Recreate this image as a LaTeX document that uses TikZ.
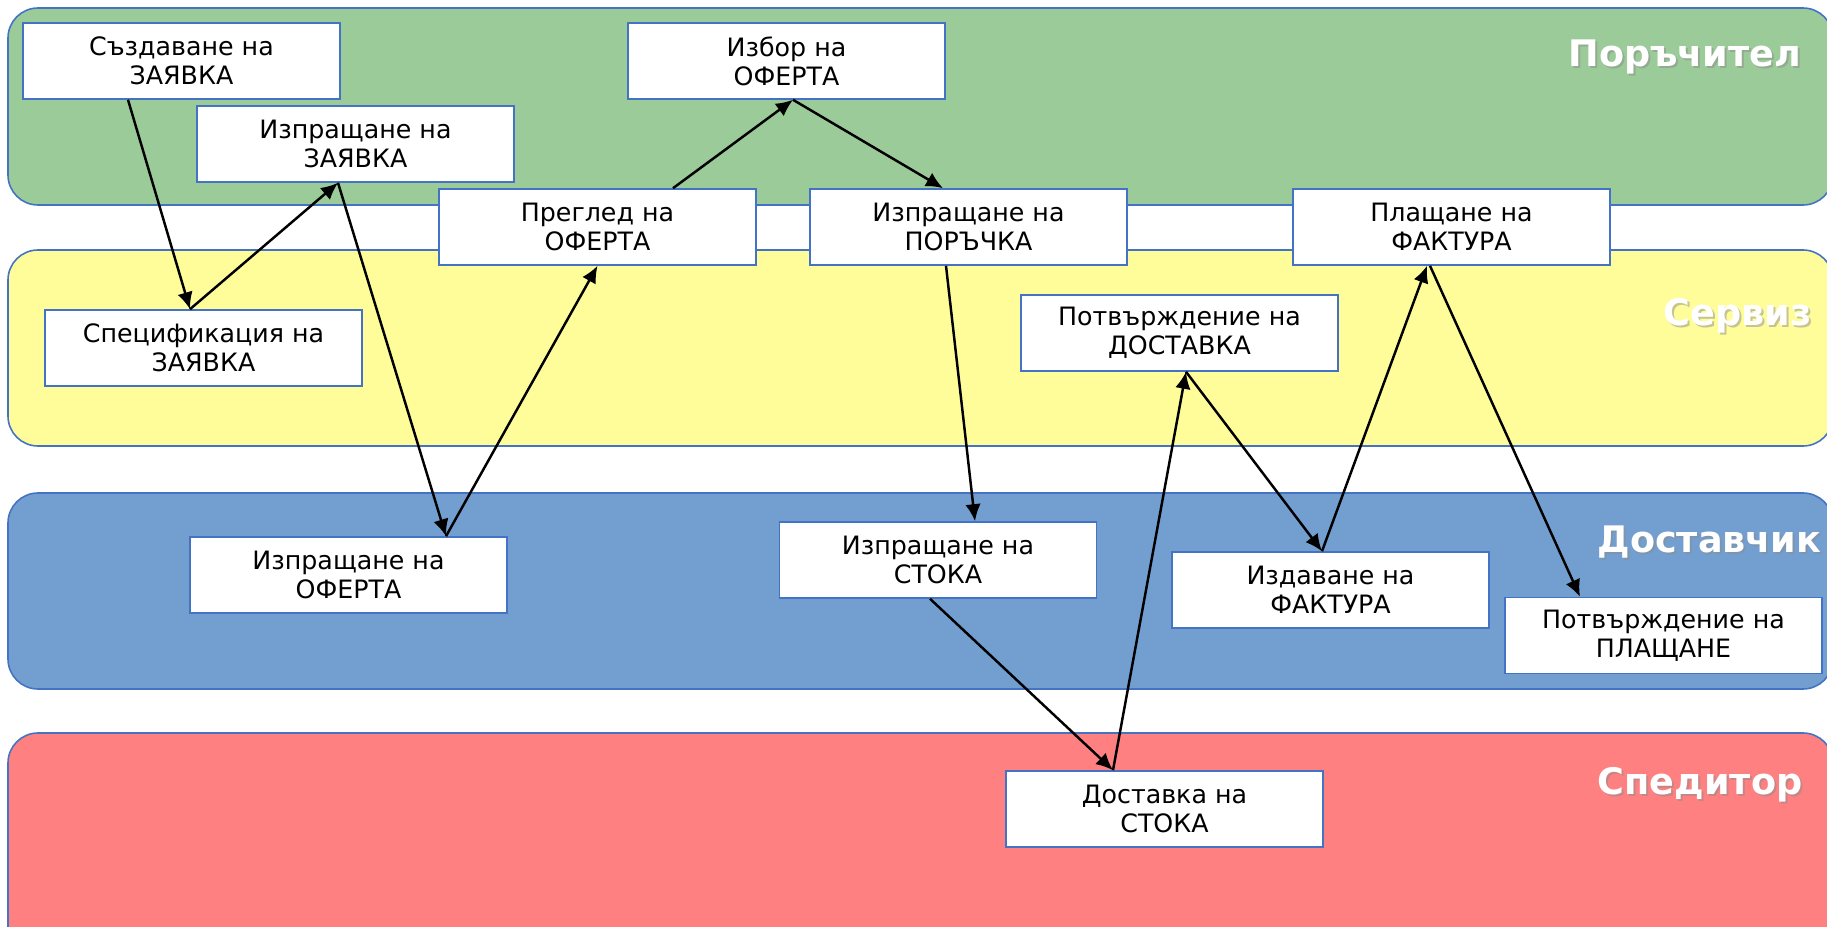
\documentclass[tikz,border=0pt]{standalone}
\usepackage{fontspec}
\setmainfont{DejaVu Sans}
\usetikzlibrary{arrows.meta, positioning}
\definecolor{lanegreen}{RGB}{155,203,152}
\definecolor{laneyellow}{RGB}{255,253,153}
\definecolor{laneblue}{RGB}{114,159,207}
\definecolor{lanered}{RGB}{255,128,128}
\definecolor{edgeblue}{RGB}{68,114,196}

\begin{document}
\begin{tikzpicture}[
    task/.style={rectangle,draw=edgeblue,fill=white,line width=0.45pt,minimum width=3.17cm,minimum height=0.76cm,inner sep=0pt,align=center,font=\fontsize{7.2}{8.3}\selectfont},
    lane/.style={draw=edgeblue,line width=0.45pt,rounded corners=0.3cm},
    lanetitle/.style={anchor=east,inner sep=0pt,text=white,font=\fontsize{10.4}{12}\selectfont\bfseries},
    lanetitleshadow/.style={anchor=east,inner sep=0pt,text=black!45,opacity=0.5,font=\fontsize{10.4}{12}\selectfont\bfseries},
    flow/.style={-{Latex[length=0.17cm,width=0.155cm]},line width=0.7pt},
]
    \useasboundingbox (0,0) rectangle (18.27,-9.27);

    % Ленти
    \draw[lane,fill=lanegreen] (0.08,-0.08) rectangle (18.33,-2.05);
    \draw[lane,fill=laneyellow] (0.08,-2.50) rectangle (18.33,-4.46);
    \draw[lane,fill=laneblue] (0.08,-4.93) rectangle (18.33,-6.89);
    \draw[lane,fill=lanered] (0.08,-7.33) rectangle (18.33,-9.60);

    % Заглавия на лентите
    \node[lanetitleshadow] (shorderer) at (18.04,-0.59) {Поръчител};
    \node[lanetitle] (orderer) at (18.02,-0.57) {Поръчител};
    \node[lanetitleshadow] (shservice) at (18.14,-3.18) {Сервиз};
    \node[lanetitle] (service) at (18.12,-3.16) {Сервиз};
    \node[lanetitleshadow] (shsupplier) at (18.24,-5.44) {Доставчик};
    \node[lanetitle] (supplier) at (18.22,-5.42) {Доставчик};
    \node[lanetitleshadow] (shforwarder) at (18.05,-7.87) {Спедитор};
    \node[lanetitle] (forwarder) at (18.03,-7.85) {Спедитор};

    % Задачи
    \node[task] (createreq) at (1.815,-0.61) {Създаване на\\ЗАЯВКА};
    \node[task] (sendreq) at (3.555,-1.44) {Изпращане на\\ЗАЯВКА};
    \node[task] (specreq) at (2.035,-3.48) {Спецификация на\\ЗАЯВКА};
    \node[task] (reviewoffer) at (5.975,-2.27) {Преглед на\\ОФЕРТА};
    \node[task] (chooseoffer) at (7.865,-0.61) {Избор на\\ОФЕРТА};
    \node[task] (sendorder) at (9.685,-2.27) {Изпращане на\\ПОРЪЧКА};
    \node[task] (payinvoice) at (14.515,-2.27) {Плащане на\\ФАКТУРА};
    \node[task] (confirmdel) at (11.795,-3.33) {Потвърждение на\\ДОСТАВКА};
    \node[task] (sendoffer) at (3.485,-5.75) {Изпращане на\\ОФЕРТА};
    \node[task] (sendgoods) at (9.38,-5.60) {Изпращане на\\СТОКА};
    \node[task] (issueinvoice) at (13.305,-5.90) {Издаване на\\ФАКТУРА};
    \node[task] (confirmpay) at (16.635,-6.355) {Потвърждение на\\ПЛАЩАНЕ};
    \node[task] (delivergoods) at (11.645,-8.09) {Доставка на\\СТОКА};

    % Поток
    \draw[flow] ([xshift=-0.535cm]createreq.south) -- ([xshift=-0.135cm]specreq.north);
    \draw[flow] ([xshift=-0.135cm]specreq.north) -- ([xshift=-0.175cm]sendreq.south);
    \draw[flow] ([xshift=-0.175cm]sendreq.south) -- ([xshift=0.975cm]sendoffer.north);
    \draw[flow] ([xshift=0.975cm]sendoffer.north) -- (reviewoffer.south);
    \draw[flow] ([xshift=0.755cm]reviewoffer.north) -- ([xshift=0.065cm]chooseoffer.south);
    \draw[flow] ([xshift=0.065cm]chooseoffer.south) -- ([xshift=-0.255cm]sendorder.north);
    \draw[flow] ([xshift=-0.225cm]sendorder.south) -- ([xshift=0.37cm]sendgoods.north);
    \draw[flow] ([xshift=-0.08cm]sendgoods.south) -- ([xshift=-0.515cm]delivergoods.north);
    \draw[flow] ([xshift=-0.515cm]delivergoods.north) -- ([xshift=0.065cm]confirmdel.south);
    \draw[flow] ([xshift=0.065cm]confirmdel.south) -- ([xshift=-0.085cm]issueinvoice.north);
    \draw[flow] ([xshift=-0.085cm]issueinvoice.north) -- ([xshift=-0.245cm]payinvoice.south);
    \draw[flow] ([xshift=-0.215cm]payinvoice.south) -- ([xshift=-0.835cm]confirmpay.north);
\end{tikzpicture}
\end{document}
